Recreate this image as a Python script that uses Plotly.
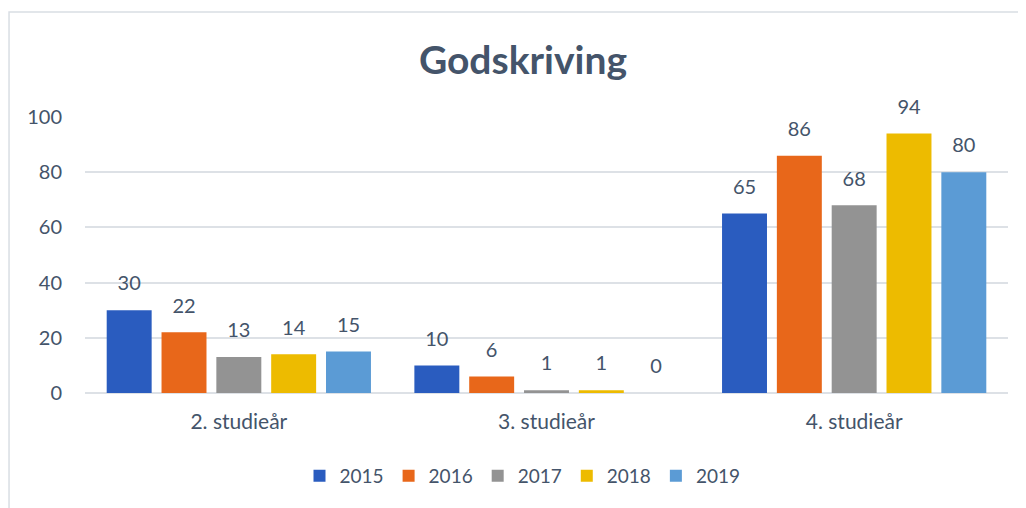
import plotly.graph_objects as go

categories = ["2. studieår", "3. studieår", "4. studieår"]
years = ["2015", "2016", "2017", "2018", "2019"]
values = {
    "2015": [30, 10, 65],
    "2016": [22, 6, 86],
    "2017": [13, 1, 68],
    "2018": [14, 1, 94],
    "2019": [15, 0, 80],
}
colors = {
    "2015": "#2A5CBF",
    "2016": "#E8671A",
    "2017": "#939393",
    "2018": "#EDBB00",
    "2019": "#5B9BD5",
}

TXT = "#44546A"
FONT = "Lato, Calibri, Carlito, sans-serif"
GAP = 0.109

fig = go.Figure()
for y in years:
    fig.add_trace(go.Bar(
        name=y, x=categories, y=values[y],
        marker=dict(color=colors[y], line=dict(width=0)),
        hoverinfo="x+y+name",
    ))
for y in years:
    fig.add_trace(go.Scatter(
        x=categories, y=values[y], mode="markers+text",
        marker=dict(size=22, color="rgba(0,0,0,0)"),
        text=[str(v) for v in values[y]], textposition="top center",
        textfont=dict(size=20, color=TXT, family=FONT),
        showlegend=False, hoverinfo="skip", cliponaxis=False,
    ))

fig.update_layout(
    width=1018, height=500,
    paper_bgcolor="white", plot_bgcolor="white",
    margin=dict(l=77, r=18, t=109, b=115),
    barmode="group", bargap=GAP, bargroupgap=0.18,
    scattermode="group", scattergap=GAP,
    title=dict(text="<b>Godskriving</b>", x=0.4745, xanchor="center", xref="paper",
               y=0.896, yanchor="middle",
               font=dict(size=39, color=TXT, family=FONT)),
    font=dict(family=FONT, color=TXT),
    showlegend=True,
    legend=dict(orientation="h", x=0.474, xanchor="center", xref="paper",
                y=-0.3, yanchor="middle",
                font=dict(size=19, color=TXT, family=FONT),
                itemwidth=30, traceorder="normal"),
    xaxis=dict(showgrid=False, showline=False, ticks="", ticklabelstandoff=14,
               tickfont=dict(size=21, color=TXT, family=FONT)),
    yaxis=dict(range=[0, 100], dtick=20, showgrid=True, gridcolor="#DDE1E6",
               gridwidth=1.5, zeroline=True, zerolinecolor="#DDE1E6", zerolinewidth=1.5,
               showline=False, ticks="", ticklabelstandoff=22,
               tickfont=dict(size=20, color=TXT, family=FONT)),
    shapes=[dict(type="rect", xref="paper", yref="paper",
                 x0=-0.0823, x1=1.2, y0=-0.6, y1=1.380,
                 line=dict(color="#D9DEE4", width=1.5), fillcolor="rgba(0,0,0,0)",
                 layer="below")],
)

fig.write_html("out.html")
